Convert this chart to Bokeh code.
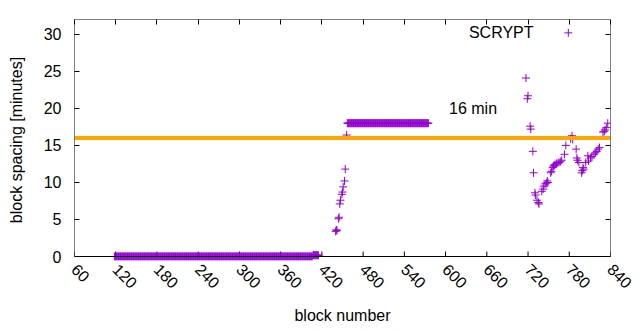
import math
from bokeh.plotting import figure
from bokeh.models import Range1d, FixedTicker, LinearAxis, Label, Span, BoxAnnotation
from bokeh.embed import file_html
from bokeh.resources import INLINE

# ---- data ----
zero_blocks = list(range(118, 407))
zero_vals = [0.0] * len(zero_blocks)

small_blocks = [407, 408, 409, 410, 411, 412, 413, 414, 415]
small_vals = [0.15, 0.2, 0.15, 0.2, 0.15, 0.2, 0.15, 0.2, 0.15]

ramp_blocks = [440, 441, 442, 444, 445, 446, 447, 449, 450, 451, 453, 454, 456]
ramp_vals = [3.4, 3.6, 3.5, 5.1, 5.3, 7.1, 7.6, 8.4, 8.7, 9.4, 10.2, 11.8, 16.4]

plateau_blocks = list(range(457, 576))
plateau_vals = [18.0] * len(plateau_blocks)

tail_blocks = [717, 719, 720, 723, 724, 727, 728, 730, 731, 733, 735, 736,
               740, 742, 743, 745, 747, 748, 749, 753, 754, 756, 757, 758,
               759, 761, 762, 765, 767, 769, 773, 775, 782, 784, 785, 790,
               791, 792, 794, 798, 799, 800, 801, 804, 807, 808, 811, 813,
               816, 818, 820, 822, 824, 829, 831, 832, 834, 836]
tail_vals = [24.1, 21.3, 21.7, 17.6, 17.2, 14.2, 11.3, 8.6, 8.3, 7.6, 7.3, 7.1,
             8.8, 9.1, 9.5, 9.8, 9.9, 10.2, 10.0, 11.3, 11.5, 12.0, 12.2, 12.3,
             12.4, 12.5, 12.6, 12.7, 12.8, 13.0, 13.8, 15.0, 15.9, 16.3, 15.8, 14.5,
             13.3, 13.0, 12.7, 11.3, 11.6, 12.0, 11.8, 12.7, 13.6, 12.9, 13.3, 13.5,
             13.8, 14.0, 14.2, 14.5, 14.7, 16.8, 16.9, 17.1, 17.4, 18.0]

target_minutes = 16
x_min, x_max = 60, 840
y_min, y_max = 0, 32
x_ticks = list(range(60, 841, 60))
y_ticks = [0, 5, 10, 15, 20, 25, 30]

series_name = "SCRYPT"
target_label = "16 min"

PURPLE = "#9400D3"
ORANGE = "#FFA500"
FONT = "Liberation Sans"

blocks = zero_blocks + small_blocks + ramp_blocks + plateau_blocks + tail_blocks
vals = zero_vals + small_vals + ramp_vals + plateau_vals + tail_vals

# a little room below 0 so the markers sitting on 0 are not cut off
y_pad = 0.54
p = figure(width=640, height=330, output_backend="svg", toolbar_location=None,
           x_range=Range1d(x_min, x_max), y_range=Range1d(y_min - y_pad, y_max),
           min_border_left=74, min_border_right=30, min_border_top=19,
           min_border_bottom=70)
p.background_fill_color = "white"
p.border_fill_color = "white"
p.outline_line_color = None
p.xgrid.visible = False
p.ygrid.visible = False

def style_axis(ax, ticks, labels=True):
    ax.ticker = FixedTicker(ticks=ticks)
    ax.minor_tick_line_color = None
    ax.major_tick_in = 5
    ax.major_tick_out = 0
    ax.axis_line_color = None
    ax.major_tick_line_color = "black"
    ax.major_label_text_font = FONT
    ax.major_label_text_font_size = "16px" if labels else "0px"
    ax.major_label_text_color = "black"
    ax.axis_label_text_font = FONT
    ax.axis_label_text_font_size = "16px"
    ax.axis_label_text_font_style = "normal"
    ax.axis_label_text_color = "black"

xa = p.xaxis[0]
style_axis(xa, x_ticks)
xa.major_tick_line_color = None
xa.major_label_orientation = -math.pi / 4
xa.major_label_standoff = 6
xa.axis_label = "block number"
xa.axis_label_standoff = 10

ya = p.yaxis[0]
style_axis(ya, y_ticks)
ya.major_label_standoff = 13
ya.axis_label = "block spacing [minutes]"
ya.axis_label_standoff = 16

top = LinearAxis()
style_axis(top, x_ticks, labels=False)
p.add_layout(top, "above")
right = LinearAxis()
style_axis(right, y_ticks, labels=False)
p.add_layout(right, "right")

# inward ticks on the bottom edge (at y = 0)
p.segment(x0=x_ticks, y0=[y_min] * len(x_ticks), x1=x_ticks,
          y1=[y_min + 0.67] * len(x_ticks), line_color="black", line_width=1)

p.add_layout(Span(location=target_minutes, dimension="width",
                  line_color=ORANGE, line_width=4))

p.scatter(blocks, vals, marker="cross", size=8, line_color=PURPLE, line_width=1)

# plot border (frame) from 0 to the top of the range
p.add_layout(BoxAnnotation(left=x_min, right=x_max, bottom=y_min, top=y_max,
                           fill_alpha=0.0, fill_color="white",
                           line_color="black", line_width=1, line_alpha=1.0))

# key
p.add_layout(Label(x=728, y=30.2, text=series_name, text_align="right",
                   text_baseline="middle", text_font=FONT,
                   text_font_size="16px", text_color="black"))
p.scatter([778.6], [30.2], marker="cross", size=8, line_color=PURPLE, line_width=1)

p.add_layout(Label(x=605, y=20, text=target_label, text_align="left",
                   text_baseline="middle", text_font=FONT,
                   text_font_size="16px", text_color="black"))

open("out.html", "w").write(file_html(p, INLINE))
